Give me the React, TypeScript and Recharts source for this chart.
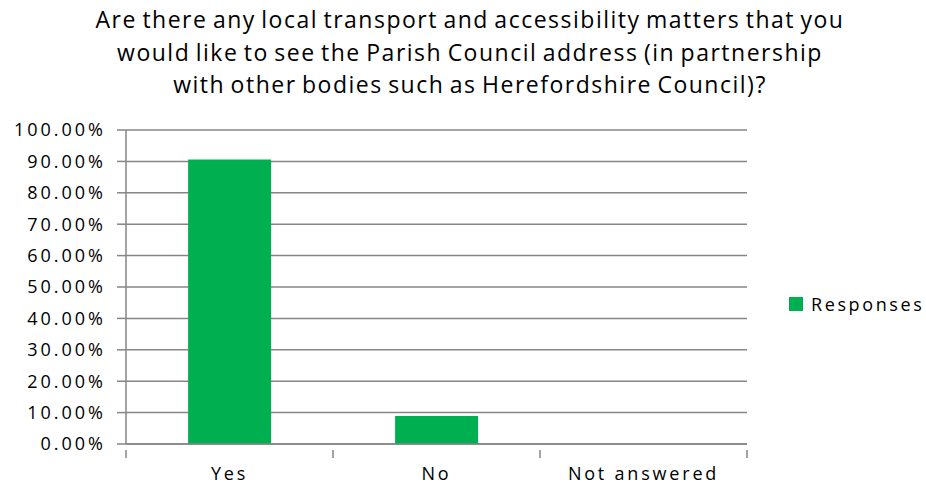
import { Bar, BarChart, CartesianGrid, XAxis, YAxis } from "recharts";

const titleLines = [
  "Are there any local transport and accessibility matters that you",
  "would like to see the Parish Council address (in partnership",
  "with other bodies such as Herefordshire Council)?",
];

const categories = ["Yes", "No", "Not answered"];
const responses = [90.6, 8.9, 0];
const yTicks = [0, 10, 20, 30, 40, 50, 60, 70, 80, 90, 100];
const seriesName = "Responses";

const data = categories.map((name, i) => ({ name, Responses: responses[i] }));

const W = 926;
const H = 486;
const margin = { top: 130, right: 179, left: 10, bottom: 2 };
const yAxisWidth = 116;
const plotWidth = W - margin.left - margin.right - yAxisWidth;
const band = plotWidth / categories.length;

const FONT = "'Open Sans', Lato, sans-serif";
const GRID = "#868686";
const GREEN = "#00B050";

function CategoryTick(props: any) {
  const { x, y, payload, index } = props;
  const left = x - band / 2;
  return (
    <g>
      <line x1={left} x2={left} y1={y - 17} y2={y - 9} stroke={GRID} strokeWidth={1.5} />
      {index === categories.length - 1 && (
        <line x1={left + band} x2={left + band} y1={y - 17} y2={y - 9} stroke={GRID} strokeWidth={1.5} />
      )}
      <text x={x} y={y} dy="0.71em" textAnchor="middle" fill="#000" fontSize={18} fontFamily={FONT} letterSpacing={2.8}>
        {payload.value}
      </text>
    </g>
  );
}

export default function App() {
  return (
    <div style={{ position: "absolute", left: 0, top: 0, width: W, height: H, background: "#fff" }}>
      <div
        style={{
          position: "absolute",
          left: 0,
          top: 3,
          width: 940,
          textAlign: "center",
          fontFamily: FONT,
          fontSize: 23,
          lineHeight: "32.5px",
          color: "#000",
          letterSpacing: 1.5,
          wordSpacing: -2,
        }}
      >
        {titleLines.map((t) => (
          <div key={t}>{t}</div>
        ))}
      </div>
      <BarChart width={W} height={H} data={data} margin={margin} barCategoryGap="30%">
        <CartesianGrid vertical={false} stroke={GRID} strokeWidth={1.5} />
        <XAxis
          dataKey="name"
          stroke={GRID}
          strokeWidth={1.5}
          tickLine={false}
          height={40}
          tick={<CategoryTick />}
          tickMargin={17}
          interval={0}
        />
        <YAxis
          domain={[0, 100]}
          ticks={yTicks}
          width={yAxisWidth}
          stroke={GRID}
          strokeWidth={1.5}
          tickSize={9}
          tickMargin={11}
          tickFormatter={(v: number) => v.toFixed(2) + "%"}
          tick={{ fill: "#000", fontSize: 18, fontFamily: FONT, letterSpacing: 3 }}
          interval={0}
        />
        <Bar dataKey="Responses" fill={GREEN} isAnimationActive={false} />
      </BarChart>
      <div
        style={{
          position: "absolute",
          left: 789,
          top: 292,
          display: "flex",
          alignItems: "center",
          fontFamily: FONT,
          fontSize: 18,
          color: "#000",
        }}
      >
        <span style={{ width: 14, height: 14, background: GREEN, display: "inline-block", marginRight: 8 }} />
        <span style={{ letterSpacing: 2.6 }}>{seriesName}</span>
      </div>
    </div>
  );
}
